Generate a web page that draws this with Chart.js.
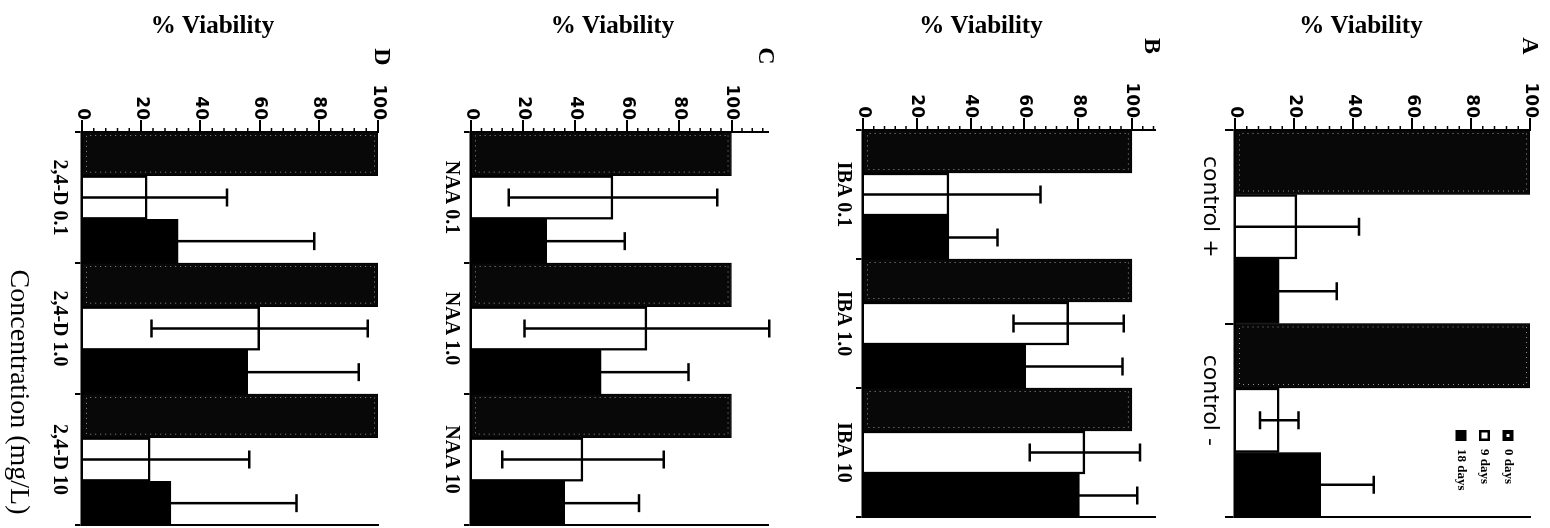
<!DOCTYPE html>
<html><head><meta charset="utf-8">
<script src="https://cdn.jsdelivr.net/npm/chart.js@4.4.0/dist/chart.umd.min.js"></script>
<style>
html,body{margin:0;padding:0;background:#fff;}
body{width:1550px;height:528px;overflow:hidden;position:relative;}
#fig{position:absolute;left:0;top:0;width:528px;height:1550px;transform-origin:0 0;transform:translate(1550px,0) rotate(90deg);background:#fff;}
#fig canvas{position:absolute;left:0;}
</style></head><body>
<div id="fig">
<canvas id="cA" width="528" height="380" style="top:0px"></canvas>
<canvas id="cB" width="528" height="390" style="top:380px"></canvas>
<canvas id="cC" width="528" height="390" style="top:770px"></canvas>
<canvas id="cD" width="528" height="390" style="top:1160px"></canvas>
</div>
<script>
// ---- data ----
const seriesNames = ['0 days', '9 days', '18 days'];
const valueTickLabels = ['0', '20', '40', '60', '80', '100'];
const valueTickValues = [0, 20, 40, 60, 80, 100];
const panelLetters = ['A', 'B', 'C', 'D'];
const valueAxisTitle = '% Viability';
const categoryAxisTitle = 'Concentration (mg/L)';

const labelsA = ['control +', 'control -'];
const day0A = [100, 100];
const day9A = [21, 15];
const err9A = [21, 6.5];
const day18A = [15, 29];
const err18A = [19.5, 18];

const labelsB = ['IBA 0.1', 'IBA 1.0', 'IBA 10'];
const day0B = [100, 100, 100];
const day9B = [32, 76.5, 82.5];
const err9B = [34, 20.5, 20.5];
const day18B = [32, 60.5, 80.5];
const err18B = [18, 36, 21.5];

const labelsC = ['NAA 0.1', 'NAA 1.0', 'NAA 10'];
const day0C = [100, 100, 100];
const day9C = [54.5, 67.5, 43];
const err9C = [40, 47, 31];
const day18C = [29, 50, 36];
const err18C = [30, 33.5, 28.5];

const labelsD = ['2,4-D 0.1', '2,4-D 1.0', '2,4-D 10'];
const day0D = [100, 100, 100];
const day9D = [22, 60, 23];
const err9D = [27, 36.5, 33.5];
const day18D = [32.5, 56, 30];
const err18D = [46, 37.5, 42.5];

const axisMax = [100, 108.6, 114, 100];

// ---- plugins ----
const stipplePlugin = {
  id: 'stipple',
  afterDatasetsDraw(chart) {
    const ctx = chart.ctx;
    const meta = chart.getDatasetMeta(0);
    ctx.save();
    ctx.strokeStyle = 'rgba(255,255,255,0.55)';
    ctx.lineWidth = 1;
    ctx.setLineDash([1, 4]);
    meta.data.forEach(bar => {
      const l = bar.x - bar.width / 2 + 3.5, r = bar.x + bar.width / 2 - 3.5;
      const t = bar.y + 3.5, b = bar.base - 3.5;
      ctx.strokeRect(l, t, r - l, b - t);
    });
    ctx.restore();
  }
};

const errorBarPlugin = {
  id: 'errorBars',
  afterDatasetsDraw(chart) {
    const ctx = chart.ctx, y = chart.scales.y;
    chart.data.datasets.forEach((ds, di) => {
      if (!ds.errors) return;
      const meta = chart.getDatasetMeta(di);
      meta.data.forEach((bar, i) => {
        const v = ds.data[i], e = ds.errors[i];
        if (e == null) return;
        const top = y.getPixelForValue(v + e);
        const low = v - e;
        const bot = y.getPixelForValue(Math.max(low, 0));
        ctx.save();
        ctx.strokeStyle = '#000';
        ctx.lineWidth = 2.5;
        ctx.beginPath();
        ctx.moveTo(bar.x, top); ctx.lineTo(bar.x, bot);
        ctx.moveTo(bar.x - 9, top); ctx.lineTo(bar.x + 9, top);
        if (low > 0) { ctx.moveTo(bar.x - 9, bot); ctx.lineTo(bar.x + 9, bot); }
        ctx.stroke();
        ctx.restore();
      });
    });
  }
};

const minorTickPlugin = {
  id: 'minorTicks',
  afterDraw(chart) {
    const ctx = chart.ctx, y = chart.scales.y, left = chart.chartArea.left;
    ctx.save();
    ctx.strokeStyle = '#000';
    ctx.lineWidth = 1.5;
    ctx.beginPath();
    for (let v = 4; v <= y.max + 0.001; v += 4) {
      if (v % 20 === 0) continue;
      const p = y.getPixelForValue(v);
      ctx.moveTo(left - 4, p); ctx.lineTo(left, p);
    }
    ctx.stroke();
    ctx.restore();
  }
};

const textPlugin = {
  id: 'panelText',
  afterDraw(chart, args, opts) {
    const ctx = chart.ctx;
    (opts.items || []).forEach(it => {
      ctx.save();
      ctx.translate(it.x, it.y);
      if (it.rotate) ctx.rotate(it.rotate);
      ctx.font = it.font;
      ctx.fillStyle = '#000';
      ctx.textAlign = 'center';
      ctx.textBaseline = 'middle';
      ctx.fillText(it.text, 0, 0);
      ctx.restore();
    });
  }
};

const insetLegendPlugin = {
  id: 'insetLegend',
  afterDraw(chart, args, opts) {
    if (!opts.show) return;
    const ctx = chart.ctx, ca = chart.chartArea;
    const bx = ca.right - opts.fromRight, size = 11;
    ctx.save();
    chart.data.datasets.forEach((ds, i) => {
      const cy = ca.top + opts.firstY + i * opts.gap;
      const top = cy - size / 2;
      if (i === 0) {
        ctx.fillStyle = '#000'; ctx.fillRect(bx, top, size, size);
        ctx.fillStyle = '#fff'; ctx.fillRect(bx + 4, top + 4, size - 8, size - 8);
      } else if (i === 1) {
        ctx.fillStyle = '#000'; ctx.fillRect(bx, top, size, size);
        ctx.fillStyle = '#fff'; ctx.fillRect(bx + 2.5, top + 2.5, size - 5, size - 5);
      } else {
        ctx.fillStyle = '#000'; ctx.fillRect(bx, top, size, size);
      }
      ctx.fillStyle = '#000';
      ctx.font = 'bold 13px "Liberation Serif"';
      ctx.textAlign = 'left';
      ctx.textBaseline = 'middle';
      ctx.fillText(ds.label, bx + size + 8, cy);
    });
    ctx.restore();
  }
};

// ---- panel builder ----
function makePanel(id, p) {
  const canvas = document.getElementById(id);
  const H = canvas.height, W = canvas.width;
  new Chart(canvas, {
    type: 'bar',
    data: {
      labels: p.labels,
      datasets: [
        { label: seriesNames[0], data: p.d0, backgroundColor: '#080808', borderColor: '#000', borderWidth: 1 },
        { label: seriesNames[1], data: p.d9, errors: p.e9, backgroundColor: '#fff', borderColor: '#000', borderWidth: 2.5 },
        { label: seriesNames[2], data: p.d18, errors: p.e18, backgroundColor: '#000', borderColor: '#000', borderWidth: 1 }
      ]
    },
    options: {
      responsive: false,
      animation: false,
      devicePixelRatio: 1,
      layout: { padding: { top: p.padTop, left: 0, right: 0, bottom: 0 } },
      datasets: { bar: { categoryPercentage: 1, barPercentage: 1 } },
      plugins: {
        legend: { display: false },
        tooltip: { enabled: false },
        panelText: { items: p.texts },
        insetLegend: { show: !!p.legend, fromRight: 87, firstY: 22, gap: 23.5 }
      },
      scales: {
        x: {
          type: 'category',
          offset: true,
          grid: { offset: true, drawOnChartArea: false, tickLength: p.catTick, color: '#000', lineWidth: 2 },
          border: { display: true, color: '#000', width: 2.5 },
          ticks: { font: p.catFont, color: '#000', padding: p.catPad, labelOffset: p.labelOffset, maxRotation: 0, minRotation: 0, autoSkip: false },
          afterFit(s) { s.height = H - p.areaBottom; }
        },
        y: {
          type: 'linear',
          position: 'left',
          min: 0,
          max: p.max,
          ticks: {
            stepSize: 20, includeBounds: false, padding: 0, color: '#000',
            font: { family: 'DejaVu Sans', weight: 'bold', size: 17 },
            callback: (v) => { const k = valueTickValues.indexOf(v); return k >= 0 ? valueTickLabels[k] : ''; }
          },
          grid: { drawOnChartArea: false, tickLength: 12, color: '#000', lineWidth: 2 },
          border: { display: true, color: '#000', width: 2 },
          afterFit(s) { s.width = p.areaLeft; }
        },
        y2: {
          type: 'linear',
          position: 'right',
          display: true,
          min: 0,
          max: p.max,
          ticks: { display: false },
          grid: { display: false },
          border: { display: true, color: '#000', width: 2 },
          afterFit(s) { s.width = W - p.areaRight; }
        }
      }
    },
    plugins: [stipplePlugin, errorBarPlugin, minorTickPlugin, textPlugin, insetLegendPlugin]
  });
}

const titleFont = 'bold 25px "Liberation Serif"';
const letterFont = 'bold 24px "Liberation Serif"';
const serifCat = { family: 'Liberation Serif', weight: 'bold', size: 20 };

makePanel('cA', {
  labels: labelsA, d0: day0A, d9: day9A, e9: err9A, d18: day18A, e18: err18A,
  max: axisMax[0], padTop: 20, areaBottom: 315, areaLeft: 130, areaRight: 517,
  catTick: 10, catPad: 2, labelOffset: -20,
  catFont: { family: 'DejaVu Sans', size: 22 },
  legend: true,
  texts: [
    { text: valueAxisTitle, x: 27, y: 189, rotate: -Math.PI / 2, font: titleFont },
    { text: panelLetters[0], x: 46, y: 21, font: letterFont }
  ]
});
makePanel('cB', {
  labels: labelsB, d0: day0B, d9: day9B, e9: err9B, d18: day18B, e18: err18B,
  max: axisMax[1], padTop: 15, areaBottom: 307, areaLeft: 130, areaRight: 517,
  catTick: 7, catPad: 1, labelOffset: 0, catFont: serifCat,
  texts: [
    { text: valueAxisTitle, x: 27, y: 189, rotate: -Math.PI / 2, font: titleFont },
    { text: panelLetters[1], x: 46, y: 19, font: letterFont }
  ]
});
makePanel('cC', {
  labels: labelsC, d0: day0C, d9: day9C, e9: err9C, d18: day18C, e18: err18C,
  max: axisMax[2], padTop: 12, areaBottom: 309, areaLeft: 132, areaRight: 525,
  catTick: 7, catPad: 1, labelOffset: 0, catFont: serifCat,
  texts: [
    { text: valueAxisTitle, x: 27, y: 167.5, rotate: -Math.PI / 2, font: titleFont },
    { text: panelLetters[2], x: 56, y: 14.5, font: letterFont }
  ]
});
makePanel('cD', {
  labels: labelsD, d0: day0D, d9: day9D, e9: err9D, d18: day18D, e18: err18D,
  max: axisMax[3], padTop: 12, areaBottom: 308, areaLeft: 132, areaRight: 525,
  catTick: 7, catPad: 4, labelOffset: 0, catFont: serifCat,
  texts: [
    { text: valueAxisTitle, x: 27, y: 177.5, rotate: -Math.PI / 2, font: titleFont },
    { text: panelLetters[3], x: 57, y: 8.5, font: letterFont },
    { text: categoryAxisTitle, x: 392, y: 372, font: '28px "Liberation Serif"' }
  ]
});
</script>
</body></html>
